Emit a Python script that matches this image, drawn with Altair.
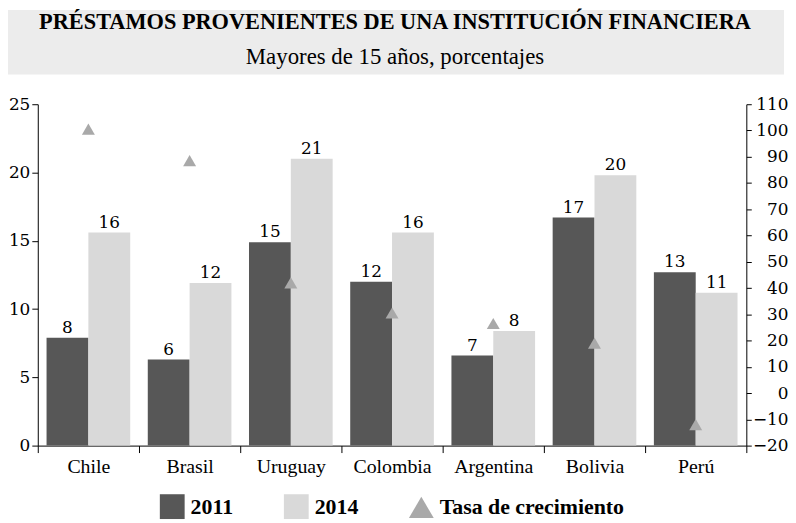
import altair as alt
import pandas as pd

TITLE = "PRÉSTAMOS PROVENIENTES DE UNA INSTITUCIÓN FINANCIERA"
SUBTITLE = "Mayores de 15 años, porcentajes"

paises = ["Chile", "Brasil", "Uruguay", "Colombia", "Argentina", "Bolivia", "Perú"]
v2011 = [7.9, 6.3, 14.9, 12.0, 6.6, 16.7, 12.7]
v2014 = [15.6, 11.9, 21.0, 15.6, 8.4, 19.8, 11.2]
tasa = [100.5, 88.5, 42.0, 30.5, 26.5, 19.0, -12.0]

series = ["2011", "2014", "Tasa de crecimiento"]
colores = ["#575757", "#d9d9d9", "#a9a9a9"]
formas = ["square", "square", "triangle-up"]

bars_df = pd.DataFrame(
    [{"pais": p, "serie": "2011", "valor": v} for p, v in zip(paises, v2011)]
    + [{"pais": p, "serie": "2014", "valor": v} for p, v in zip(paises, v2014)]
)
tasa_df = pd.DataFrame({"pais": paises, "tasa": tasa, "serie": ["Tasa de crecimiento"] * len(paises)})

NUM_FONT = "DejaVu Serif"
TXT_FONT = "Liberation Serif"

W, H = 714, 344
LEFT = 30  # room for the left axis labels

x_axis = alt.Axis(
    title=None, tickBand="extent", tickSize=7, labelFont=TXT_FONT, labelFontSize=20,
    labelColor="#000", labelPadding=20, labelBaseline="alphabetic", labelAngle=0,
    domainColor="#000", tickColor="#000", labelLimit=200,
)
x_enc = alt.X("pais:N", sort=paises, scale=alt.Scale(paddingInner=0, paddingOuter=0), axis=x_axis)
xoff_enc = alt.XOffset("serie:N", sort=["2011", "2014"],
                       scale=alt.Scale(paddingInner=0, paddingOuter=0.21))

left_axis = alt.Axis(
    title=None, values=[0, 5, 10, 15, 20, 25], orient="left", tickSize=6, labelPadding=2,
    labelFont=NUM_FONT, labelFontSize=17, labelColor="#000", domainColor="#000",
    tickColor="#000", grid=False,
)
y_left = alt.Y("valor:Q", scale=alt.Scale(domain=[0, 25], nice=False), axis=left_axis)

right_axis = alt.Axis(
    title=None, values=list(range(-20, 111, 10)), orient="right", tickSize=5, labelPadding=37,
    labelAlign="right", labelFont=NUM_FONT, labelFontSize=17, labelColor="#000",
    domainColor="#000", tickColor="#000", grid=False,
)

legend = alt.Legend(
    title=None, orient="none", legendX=123, legendY=393, direction="horizontal",
    symbolSize=625, symbolStrokeWidth=0, symbolOpacity=1, labelFont=TXT_FONT,
    labelFontSize=22, labelFontWeight="bold", labelColor="#000", labelOffset=6,
    columnPadding=51, padding=0, labelLimit=300,
)
color_enc = alt.Color("serie:N", scale=alt.Scale(domain=series, range=colores), legend=legend)
shape_enc = alt.Shape("serie:N", scale=alt.Scale(domain=series, range=formas), legend=legend)

header = alt.Chart(pd.DataFrame({"t": [TITLE]})).mark_rect(color="#ececec").encode(
    x=alt.value(-LEFT), x2=alt.value(W + 38), y=alt.value(-95), y2=alt.value(-30)
)
title_t = alt.Chart(pd.DataFrame({"t": [TITLE]})).mark_text(
    font=TXT_FONT, fontSize=22.5, fontWeight="bold", color="#000", align="center", baseline="alphabetic"
).encode(text="t:N", x=alt.value(360), y=alt.value(-76))
subtitle_t = alt.Chart(pd.DataFrame({"t": [SUBTITLE]})).mark_text(
    font=TXT_FONT, fontSize=23, color="#000", align="center", baseline="alphabetic"
).encode(text="t:N", x=alt.value(360), y=alt.value(-41))

bars = alt.Chart(bars_df).mark_bar().encode(
    x=x_enc, xOffset=xoff_enc, y=y_left, color=color_enc
)
labels = alt.Chart(bars_df).mark_text(
    font=NUM_FONT, fontSize=17, color="#000", baseline="alphabetic", dy=-5
).encode(x=x_enc, xOffset=xoff_enc, y=y_left, text=alt.Text("valor:Q", format=".0f"))

bar_layer = alt.layer(bars, labels)

points = alt.Chart(tasa_df).mark_point(filled=True, size=170, opacity=1).encode(
    x=x_enc,
    y=alt.Y("tasa:Q", scale=alt.Scale(domain=[-20, 110], nice=False), axis=right_axis),
    color=color_enc,
    shape=shape_enc,
)

chart = (
    alt.layer(header, title_t, subtitle_t, bar_layer, points)
    .resolve_scale(y="independent")
    .properties(width=W, height=H, padding=0)
    .configure_view(stroke=None)
)

chart.save("out.html", embed_options={"renderer": "svg", "actions": False})
